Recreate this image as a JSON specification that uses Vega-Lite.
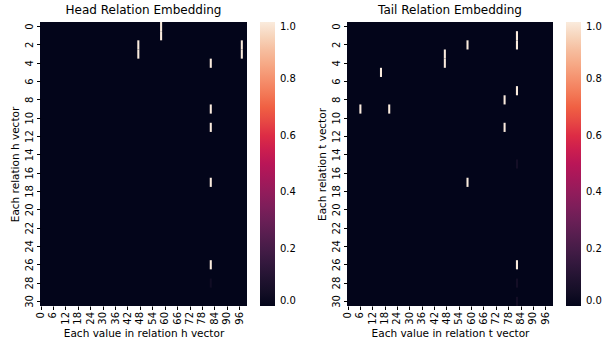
{
  "$schema": "https://vega.github.io/schema/vega-lite/v6.json",
  "background": "white",
  "padding": {"left": 10, "top": 4, "right": 0, "bottom": 3},
  "config": {
    "font": "DejaVu Sans",
    "view": {"stroke": null, "fill": "#03051a"},
    "concat": {"spacing": 21},
    "axis": {"domain": false, "grid": false, "labelFont": "DejaVu Sans", "labelFontSize": 10, "labelColor": "#000", "tickColor": "#000", "tickSize": 3.5, "labelPadding": 2, "titleFont": "DejaVu Sans", "titleFontSize": 10.5, "titleFontWeight": "normal", "titleColor": "#000", "titlePadding": 4},
    "title": {"font": "DejaVu Sans", "fontSize": 12, "fontWeight": "normal", "color": "#000", "offset": 5},
    "legend": {"gradientVerticalMaxLength": 400, "gradientVerticalMinLength": 100, "labelFont": "DejaVu Sans", "labelFontSize": 10, "labelColor": "#000"}
  },
  "datasets": {
    "head": [
      {"row": 0, "col": 58, "value": 1},
      {"row": 1, "col": 58, "value": 1},
      {"row": 2, "col": 47, "value": 1},
      {"row": 3, "col": 47, "value": 1},
      {"row": 2, "col": 97, "value": 1},
      {"row": 3, "col": 97, "value": 1},
      {"row": 4, "col": 82, "value": 1},
      {"row": 9, "col": 82, "value": 1},
      {"row": 11, "col": 82, "value": 1},
      {"row": 17, "col": 82, "value": 1},
      {"row": 26, "col": 82, "value": 1},
      {"row": 28, "col": 82, "value": 0.04}
    ],
    "tail": [
      {"row": 1, "col": 82, "value": 1},
      {"row": 2, "col": 82, "value": 1},
      {"row": 2, "col": 58, "value": 1},
      {"row": 3, "col": 47, "value": 1},
      {"row": 4, "col": 47, "value": 1},
      {"row": 5, "col": 16, "value": 1},
      {"row": 7, "col": 82, "value": 1},
      {"row": 8, "col": 76, "value": 1},
      {"row": 9, "col": 6, "value": 1},
      {"row": 9, "col": 20, "value": 1},
      {"row": 11, "col": 76, "value": 1},
      {"row": 17, "col": 58, "value": 1},
      {"row": 26, "col": 82, "value": 1},
      {"row": 15, "col": 82, "value": 0.05},
      {"row": 28, "col": 82, "value": 0.05},
      {"row": 30, "col": 82, "value": 0.05}
    ]
  },
  "resolve": {"scale": {"color": "independent"}},
  "hconcat": [
    {
      "title": "Head Relation Embedding",
      "width": 207,
      "height": 284,
      "data": {"name": "head"},
      "mark": {"type": "rect"},
      "encoding": {
        "x": {"field": "col", "type": "ordinal", "scale": {"domain": [0,1,2,3,4,5,6,7,8,9,10,11,12,13,14,15,16,17,18,19,20,21,22,23,24,25,26,27,28,29,30,31,32,33,34,35,36,37,38,39,40,41,42,43,44,45,46,47,48,49,50,51,52,53,54,55,56,57,58,59,60,61,62,63,64,65,66,67,68,69,70,71,72,73,74,75,76,77,78,79,80,81,82,83,84,85,86,87,88,89,90,91,92,93,94,95,96,97,98,99], "paddingInner": 0, "paddingOuter": 0}, "axis": {"values": [0,6,12,18,24,30,36,42,48,54,60,66,72,78,84,90,96], "labelAngle": 270, "title": "Each value in relation h vector"}},
        "y": {"field": "row", "type": "ordinal", "scale": {"domain": [0,1,2,3,4,5,6,7,8,9,10,11,12,13,14,15,16,17,18,19,20,21,22,23,24,25,26,27,28,29,30], "paddingInner": 0, "paddingOuter": 0}, "axis": {"values": [0,2,4,6,8,10,12,14,16,18,20,22,24,26,28,30], "labelAngle": 270, "title": "Each relation h vector"}},
        "color": {"field": "value", "type": "quantitative", "scale": {"domain": [0, 0.1, 0.2, 0.3, 0.4, 0.5, 0.6, 0.7, 0.8, 0.9, 1.0], "range": ["#03051a", "#221331", "#451c47", "#6a1f56", "#921c5b", "#b91657", "#dd2c45", "#f06043", "#f5916e", "#f6bd9e", "#faebdd"]}, "legend": {"title": null, "direction": "vertical", "gradientLength": 284, "gradientThickness": 15, "gradientStrokeWidth": 0, "offset": 13, "format": ".1f", "values": [0, 0.2, 0.4, 0.6, 0.8, 1.0], "labelOffset": 5}}
      }
    },
    {
      "title": "Tail Relation Embedding",
      "width": 206,
      "height": 284,
      "data": {"name": "tail"},
      "mark": {"type": "rect"},
      "encoding": {
        "x": {"field": "col", "type": "ordinal", "scale": {"domain": [0,1,2,3,4,5,6,7,8,9,10,11,12,13,14,15,16,17,18,19,20,21,22,23,24,25,26,27,28,29,30,31,32,33,34,35,36,37,38,39,40,41,42,43,44,45,46,47,48,49,50,51,52,53,54,55,56,57,58,59,60,61,62,63,64,65,66,67,68,69,70,71,72,73,74,75,76,77,78,79,80,81,82,83,84,85,86,87,88,89,90,91,92,93,94,95,96,97,98,99], "paddingInner": 0, "paddingOuter": 0}, "axis": {"values": [0,6,12,18,24,30,36,42,48,54,60,66,72,78,84,90,96], "labelAngle": 270, "title": "Each value in relation t vector"}},
        "y": {"field": "row", "type": "ordinal", "scale": {"domain": [0,1,2,3,4,5,6,7,8,9,10,11,12,13,14,15,16,17,18,19,20,21,22,23,24,25,26,27,28,29,30], "paddingInner": 0, "paddingOuter": 0}, "axis": {"values": [0,2,4,6,8,10,12,14,16,18,20,22,24,26,28,30], "labelAngle": 270, "title": "Each relation t vector"}},
        "color": {"field": "value", "type": "quantitative", "scale": {"domain": [0, 0.1, 0.2, 0.3, 0.4, 0.5, 0.6, 0.7, 0.8, 0.9, 1.0], "range": ["#03051a", "#221331", "#451c47", "#6a1f56", "#921c5b", "#b91657", "#dd2c45", "#f06043", "#f5916e", "#f6bd9e", "#faebdd"]}, "legend": {"title": null, "direction": "vertical", "gradientLength": 284, "gradientThickness": 15, "gradientStrokeWidth": 0, "offset": 13, "format": ".1f", "values": [0, 0.2, 0.4, 0.6, 0.8, 1.0], "labelOffset": 5}}
      }
    }
  ]
}
